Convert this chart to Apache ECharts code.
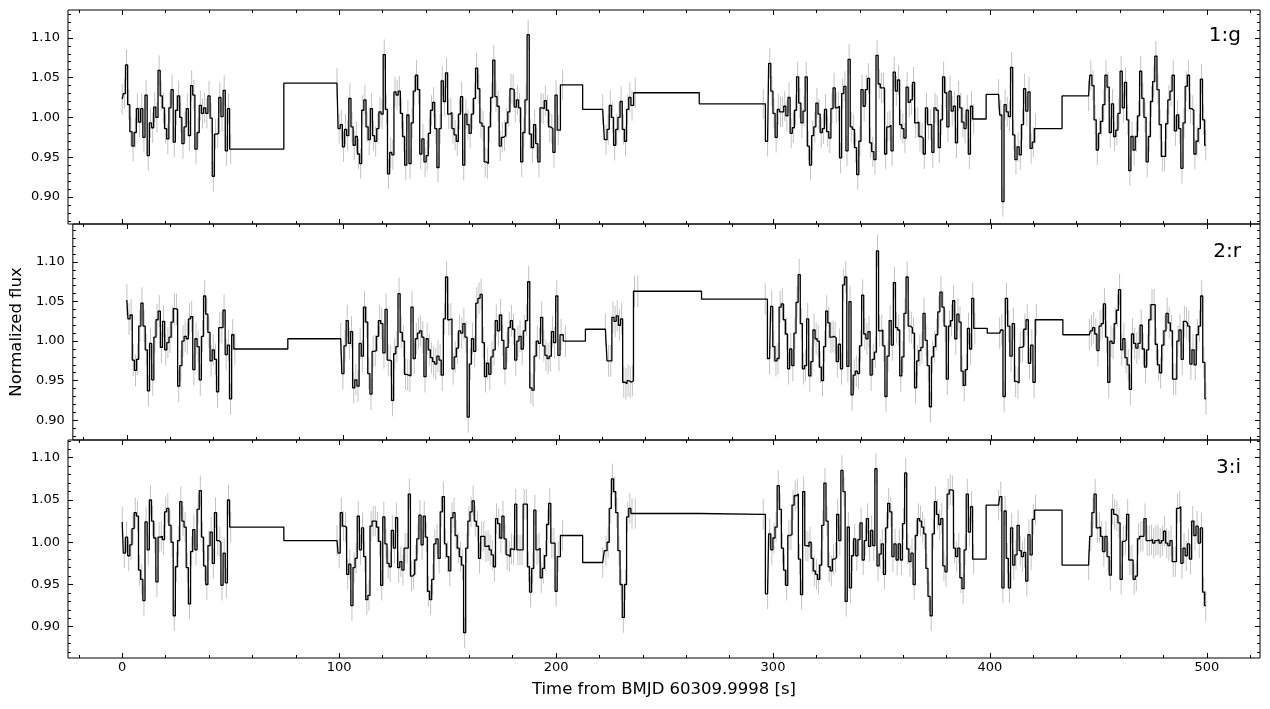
<!DOCTYPE html>
<html>
<head>
<meta charset="utf-8">
<script src="https://cdn.jsdelivr.net/npm/echarts@6/dist/echarts.min.js"></script>
<style>
  html, body { margin: 0; padding: 0; background: #fff; }
  #chart { width: 1270px; height: 709px; }
</style>
</head>
<body>
<div id="chart"></div>
<script>
// time spans [start, end] (s) of each run of exposures, shared by the three bands
const segTimes = [[0, 50], [99, 99], [100, 201], [203, 203], [221.5, 221.5], [223, 235], [236.5, 236.5],
  [295.5, 295.5], [297.5, 392.5], [404, 404], [405, 421], [445.5, 445.5], [446.5, 499.5]];

// band 1:g
const gVals = [
  [1.023, 1.030, 1.066, 1.016, 0.982, 0.964, 0.981, 1.011, 0.994, 1.011, 0.975, 1.028, 0.952, 0.993, 0.987, 1.013, 1.000,
   1.059, 1.027, 1.012, 0.986, 0.973, 1.012, 1.035, 0.969, 1.009, 1.027, 1.000, 0.967, 0.988, 1.011, 0.977, 1.040, 1.028,
   0.960, 0.981, 1.015, 1.005, 1.012, 1.005, 1.027, 0.999, 0.926, 0.979, 0.980, 1.025, 1.001, 1.034, 0.958, 1.011, 0.960],
  [1.043],
  [0.986, 0.991, 0.963, 0.985, 0.977, 1.024, 0.988, 0.965, 0.976, 0.954, 0.942, 1.009, 1.022, 0.988, 0.972, 1.011, 0.977,
   0.970, 0.986, 1.007, 1.004, 1.079, 1.010, 0.929, 0.956, 0.953, 1.032, 1.028, 1.033, 1.005, 0.976, 0.940, 1.003, 0.942,
   0.993, 1.033, 1.053, 1.035, 0.954, 0.973, 0.944, 0.952, 0.980, 1.009, 1.019, 0.986, 0.937, 0.986, 1.046, 1.020, 1.056,
   1.004, 1.006, 0.986, 0.978, 0.970, 1.004, 1.026, 0.940, 1.004, 0.991, 0.980, 1.004, 1.024, 1.062, 1.036, 0.993, 0.989,
   0.944, 0.942, 0.988, 1.025, 1.072, 1.026, 1.014, 0.964, 0.975, 0.977, 0.993, 1.007, 1.036, 1.035, 1.013, 1.022, 1.012,
   0.944, 0.981, 1.022, 1.104, 0.979, 0.962, 0.991, 0.967, 0.944, 1.012, 1.011, 1.021, 1.009, 0.988, 0.986, 0.956, 1.028, 0.984],
  [1.041],
  [1.010],
  [0.972, 0.985, 1.015, 1.000, 0.965, 0.985, 1.000, 1.020, 0.985, 0.970, 1.010, 1.025, 1.015],
  [1.031],
  [1.017],
  [0.970, 1.068, 1.033, 1.005, 0.975, 1.010, 1.007, 1.007, 1.014, 1.002, 1.025, 0.980, 0.987, 1.009, 1.051, 1.018, 0.993,
   1.008, 1.051, 0.964, 0.940, 0.977, 0.988, 1.018, 1.004, 0.981, 0.986, 1.010, 0.982, 0.974, 1.011, 1.037, 1.012, 1.014,
   0.949, 1.030, 1.039, 0.958, 1.073, 0.988, 0.985, 0.962, 0.928, 0.970, 1.035, 1.014, 1.035, 1.049, 0.968, 0.957, 0.947,
   1.078, 1.042, 1.037, 1.037, 0.954, 0.988, 0.990, 0.958, 1.057, 1.033, 1.047, 0.991, 0.986, 0.974, 1.038, 1.019, 1.022,
   1.044, 0.993, 0.994, 0.976, 0.974, 0.954, 1.012, 0.991, 0.991, 0.956, 1.012, 1.009, 0.962, 0.997, 1.051, 1.031, 0.988,
   1.033, 1.008, 1.014, 0.968, 1.027, 1.012, 0.994, 0.986, 1.009, 0.954, 1.014, 0.998],
  [1.029],
  [1.003, 0.894, 1.016, 1.007, 1.001, 1.063, 0.978, 0.947, 0.963, 0.953, 0.991, 1.036, 1.008, 1.032, 0.961, 0.969, 0.986],
  [1.027],
  [1.053, 1.040, 0.997, 0.959, 0.980, 0.995, 1.016, 1.053, 1.038, 0.981, 1.017, 0.976, 0.984, 1.005, 1.058, 1.012, 1.044,
   0.997, 0.933, 0.976, 0.959, 0.976, 1.002, 1.058, 1.024, 1.000, 0.944, 0.976, 1.020, 1.045, 1.077, 1.035, 0.991, 0.951,
   0.951, 0.992, 1.022, 1.033, 1.053, 0.983, 1.003, 0.986, 0.936, 0.993, 1.039, 1.053, 1.011, 1.009, 0.954, 0.970, 0.986,
   1.048, 0.997, 0.965]
];

// band 2:r
const rVals = [
  [1.052, 1.028, 1.033, 0.976, 0.963, 0.977, 1.019, 1.048, 1.019, 0.989, 0.937, 0.997, 0.951, 1.005, 1.027, 1.038, 0.992,
   1.025, 0.989, 0.998, 1.005, 1.024, 1.041, 1.040, 0.943, 0.969, 1.000, 1.006, 1.003, 1.028, 1.031, 0.964, 1.003, 0.993,
   0.951, 1.006, 1.057, 1.034, 1.011, 0.975, 0.989, 0.977, 0.936, 1.017, 1.017, 1.039, 0.983, 0.995, 0.927, 1.008, 0.990],
  [1.003],
  [0.959, 0.994, 1.026, 0.997, 1.012, 0.941, 0.951, 0.943, 0.997, 0.981, 1.043, 1.024, 0.959, 0.933, 0.987, 0.988, 1.006,
   1.026, 1.022, 0.985, 1.040, 0.976, 0.975, 0.925, 0.984, 0.993, 1.060, 1.011, 1.000, 0.958, 0.957, 0.956, 1.043, 0.978,
   1.003, 1.010, 1.013, 1.005, 0.955, 1.003, 0.989, 0.979, 0.974, 0.971, 0.981, 0.976, 0.957, 1.028, 1.081, 1.027, 1.028,
   0.965, 0.980, 0.991, 1.013, 1.010, 1.022, 1.005, 0.904, 0.971, 1.003, 0.987, 1.048, 1.054, 1.059, 0.998, 0.955, 0.972,
   0.958, 0.980, 0.989, 1.026, 1.013, 1.033, 1.001, 0.965, 0.992, 1.017, 1.026, 1.015, 0.976, 1.000, 1.006, 0.990, 1.013,
   1.026, 1.075, 0.941, 0.938, 0.981, 1.000, 0.997, 1.030, 0.994, 0.982, 0.978, 0.981, 1.012, 0.998, 1.057, 0.982, 1.008],
  [1.000],
  [1.015],
  [0.975, 0.975, 1.030, 1.025, 1.032, 1.020, 1.028, 0.948, 0.946, 0.950, 0.948, 0.950, 1.063],
  [1.063],
  [1.053],
  [0.978, 1.044, 0.993, 0.975, 0.978, 1.043, 1.047, 1.027, 1.009, 0.965, 0.990, 0.969, 1.010, 1.049, 1.084, 1.022, 0.965,
   0.969, 1.028, 0.956, 0.974, 1.014, 1.003, 1.000, 0.967, 0.950, 0.993, 1.038, 1.023, 1.005, 1.006, 1.004, 0.974, 0.996,
   0.965, 1.071, 1.081, 0.968, 1.050, 0.932, 0.957, 0.962, 0.959, 0.994, 1.058, 1.009, 1.003, 1.012, 0.957, 0.977, 0.986,
   1.114, 1.013, 1.014, 0.994, 0.930, 0.981, 1.026, 0.995, 1.074, 1.017, 1.014, 0.956, 0.980, 1.035, 1.081, 1.019, 1.017,
   1.010, 0.941, 0.975, 0.988, 0.992, 1.035, 1.001, 0.969, 0.917, 0.980, 0.993, 1.008, 1.037, 1.062, 1.043, 1.019, 0.952,
   1.019, 1.026, 1.051, 1.003, 1.034, 1.024, 0.962, 0.944, 0.964, 1.016, 0.990, 1.054, 1.016],
  [1.010],
  [1.014, 0.930, 1.054, 1.019, 0.981, 1.022, 0.949, 0.947, 0.992, 0.993, 1.015, 1.027, 0.972, 0.995, 0.948, 1.027],
  [1.008],
  [1.013, 1.017, 1.009, 0.988, 1.019, 1.022, 1.047, 1.005, 0.948, 1.000, 0.997, 1.022, 1.039, 1.065, 0.989, 1.003, 0.979,
   0.970, 0.939, 1.009, 0.997, 0.991, 0.997, 1.020, 0.990, 0.967, 0.989, 1.027, 1.046, 1.046, 0.996, 0.970, 0.960, 0.995,
   1.013, 1.035, 1.023, 1.013, 0.952, 0.952, 1.000, 1.014, 0.977, 1.025, 1.023, 1.019, 0.971, 0.989, 0.970, 1.008, 1.019,
   1.057, 0.973, 0.927]
];

// band 3:i
const iVals = [
  [1.024, 0.987, 1.006, 0.984, 0.997, 1.016, 1.035, 1.031, 0.967, 0.956, 0.931, 1.024, 0.991, 1.050, 1.025, 1.005, 0.953,
   1.006, 1.007, 1.003, 1.036, 1.040, 1.020, 1.000, 0.913, 0.971, 1.002, 1.048, 1.025, 1.018, 0.970, 0.927, 0.989, 1.015,
   0.991, 1.039, 1.061, 1.006, 0.972, 0.950, 0.996, 1.012, 0.975, 1.035, 1.002, 1.000, 0.949, 0.987, 0.952, 1.050, 1.018],
  [1.002],
  [0.987, 1.035, 1.019, 1.018, 0.962, 0.974, 0.925, 0.970, 0.981, 1.031, 0.991, 1.017, 0.983, 0.932, 0.937, 1.019, 1.025,
   1.025, 1.018, 1.001, 0.949, 1.030, 0.998, 0.975, 0.971, 1.014, 0.993, 1.029, 0.970, 0.977, 0.967, 0.993, 0.993, 1.057,
   0.960, 0.962, 0.979, 1.004, 1.032, 0.997, 1.031, 1.006, 0.942, 0.932, 0.956, 0.998, 1.004, 0.981, 1.036, 1.054, 0.998,
   0.983, 0.966, 1.029, 1.035, 1.008, 0.993, 0.983, 0.973, 0.893, 0.993, 1.025, 1.036, 1.049, 1.025, 1.019, 0.981, 1.007,
   1.007, 0.995, 0.996, 0.991, 0.985, 0.971, 1.028, 1.022, 1.005, 1.031, 1.004, 0.985, 0.983, 0.992, 0.991, 1.045, 0.991,
   0.991, 0.991, 1.045, 1.045, 0.971, 0.941, 0.969, 1.038, 0.991, 0.993, 0.958, 0.969, 0.984, 1.021, 1.046, 0.999, 0.999,
   0.942, 0.983],
  [1.008],
  [0.976],
  [0.990, 1.000, 1.040, 1.075, 1.060, 1.035, 0.990, 0.950, 0.911, 0.950, 1.030, 1.040, 1.034],
  [1.034],
  [1.033],
  [0.939, 1.010, 0.991, 1.005, 1.018, 1.067, 1.039, 0.993, 0.967, 0.949, 1.008, 1.009, 1.044, 1.055, 1.057, 0.980, 0.938,
   1.060, 0.996, 0.995, 1.000, 0.981, 0.966, 0.962, 0.956, 0.973, 1.020, 1.070, 1.025, 0.971, 0.966, 0.980, 0.982, 1.033,
   1.002, 1.085, 1.060, 0.930, 1.018, 0.946, 0.984, 1.004, 0.984, 1.003, 1.023, 0.979, 1.002, 1.028, 0.995, 1.014, 0.996,
   1.087, 0.972, 0.986, 0.998, 0.962, 1.017, 1.046, 1.036, 0.983, 0.998, 0.979, 0.998, 0.979, 1.022, 1.082, 0.992, 0.977,
   0.987, 0.950, 1.008, 1.028, 1.025, 1.018, 1.010, 0.969, 0.936, 0.913, 1.010, 1.048, 1.033, 1.021, 1.028, 0.972, 0.965,
   1.057, 1.062, 1.061, 0.993, 0.983, 0.993, 0.958, 0.945, 0.991, 1.057, 1.012, 1.042, 0.980],
  [1.044],
  [1.054, 0.946, 1.037, 0.981, 0.946, 1.017, 0.973, 0.985, 1.020, 0.990, 0.983, 0.988, 0.954, 1.009, 0.985, 1.027, 1.038],
  [0.973],
  [1.007, 1.035, 1.057, 1.017, 1.018, 1.007, 0.989, 1.007, 0.983, 0.961, 1.039, 1.033, 1.031, 1.023, 0.956, 1.001, 1.003,
   1.033, 0.979, 0.979, 0.956, 0.960, 1.004, 1.007, 1.007, 1.028, 1.002, 1.002, 1.003, 0.999, 1.002, 1.003, 0.999, 1.002,
   1.013, 0.999, 0.996, 1.002, 0.977, 0.977, 1.040, 1.042, 0.975, 0.993, 0.984, 0.998, 0.980, 1.025, 1.008, 1.019, 0.999,
   1.017, 0.941, 0.925]
];

// typical 1-sigma error per band
const errG = 0.019;
const errR = 0.02;
const errI = 0.018;

const bandLabels = ['1:g', '2:r', '3:i'];
const xMajor = [0, 100, 200, 300, 400, 500];
const xMinor = [-20, 20, 40, 60, 80, 120, 140, 160, 180, 220, 240, 260, 280, 320, 340, 360, 380, 420, 440, 460, 480, 520];
const yMajor = [0.90, 0.95, 1.00, 1.05, 1.10];
const yMinor = [0.87, 0.88, 0.89, 0.91, 0.92, 0.93, 0.94, 0.96, 0.97, 0.98, 0.99, 1.01, 1.02, 1.03, 1.04, 1.06, 1.07, 1.08, 1.09, 1.11, 1.12, 1.13, 1.14];

const X_MIN = -25, X_MAX = 524.5;
const yRanges = [[0.866, 1.135], [0.875, 1.148], [0.863, 1.121]];
const grids = [
  { left: 68, width: 1192, top: 10, height: 214 },
  { left: 68, width: 1192, top: 224, height: 216 },
  { left: 68, width: 1192, top: 440, height: 218 }
];
const labelY = [36, 252, 468];

const FONT = 'DejaVu Sans';

function toPoints(vals, err) {
  const pts = [];
  vals.forEach((run, s) => {
    const [t0, t1] = segTimes[s];
    const n = run.length;
    run.forEach((v, k) => {
      const t = n > 1 ? t0 + (t1 - t0) * k / (n - 1) : t0;
      pts.push([t, v, err]);
    });
  });
  return pts;
}

const noLine = { show: false, onZero: false };

function makeXAxes(gi) {
  const base = { type: 'value', gridIndex: gi, min: X_MIN, max: X_MAX, axisLine: noLine, splitLine: { show: false } };
  const last = gi === 2;
  const tick = (vals, len) => ({ inside: true, length: len, customValues: vals, lineStyle: { color: '#000', width: 1 } });
  return [
    Object.assign({}, base, {
      position: 'bottom', axisTick: tick(xMajor, 5),
      axisLabel: { show: last, customValues: xMajor, color: '#000', fontFamily: FONT, fontSize: 13, margin: 3 },
      name: last ? 'Time from BMJD 60309.9998 [s]' : '', nameLocation: 'middle', nameGap: 23,
      nameTextStyle: { color: '#000', fontFamily: FONT, fontSize: 16.5 }
    }),
    Object.assign({}, base, { position: 'bottom', axisTick: tick(xMinor, 3), axisLabel: { show: false } }),
    Object.assign({}, base, { position: 'top', axisTick: tick(xMajor, 5), axisLabel: { show: false } }),
    Object.assign({}, base, { position: 'top', axisTick: tick(xMinor, 3), axisLabel: { show: false } })
  ];
}

function makeYAxes(gi) {
  const [lo, hi] = yRanges[gi];
  const base = { type: 'value', gridIndex: gi, min: lo, max: hi, axisLine: noLine, splitLine: { show: false } };
  const tick = (vals, len) => ({ inside: true, length: len, customValues: vals.filter(v => v > lo && v < hi), lineStyle: { color: '#000', width: 1 } });
  return [
    Object.assign({}, base, {
      position: 'left', axisTick: tick(yMajor, 5),
      axisLabel: { customValues: yMajor, color: '#000', fontFamily: FONT, fontSize: 13, margin: 8, formatter: v => v.toFixed(2) },
      name: gi === 1 ? 'Normalized flux' : '', nameLocation: 'middle', nameGap: 39,
      nameTextStyle: { color: '#000', fontFamily: FONT, fontSize: 16.5 }
    }),
    Object.assign({}, base, { position: 'left', axisTick: tick(yMinor, 3), axisLabel: { show: false } }),
    Object.assign({}, base, { position: 'right', axisTick: tick(yMajor, 5), axisLabel: { show: false } }),
    Object.assign({}, base, { position: 'right', axisTick: tick(yMinor, 3), axisLabel: { show: false } })
  ];
}

const bands = [[gVals, errG], [rVals, errR], [iVals, errI]];
const xAxis = [], yAxis = [], series = [];
bands.forEach(([vals, err], gi) => {
  xAxis.push(...makeXAxes(gi));
  yAxis.push(...makeYAxes(gi));
  const pts = toPoints(vals, err);
  series.push({
    type: 'custom', xAxisIndex: gi * 4, yAxisIndex: gi * 4, clip: true, silent: true, z: 1,
    encode: { x: 0, y: 1 },
    renderItem: (params, api) => {
      const t = api.value(0), v = api.value(1), e = api.value(2);
      const a = api.coord([t, v - e]), b = api.coord([t, v + e]);
      return { type: 'line', shape: { x1: a[0], y1: a[1], x2: b[0], y2: b[1] }, style: { stroke: '#c2c2c2', lineWidth: 1 } };
    },
    data: pts
  });
  series.push({
    type: 'line', xAxisIndex: gi * 4, yAxisIndex: gi * 4, step: 'middle', showSymbol: false, symbol: 'none',
    clip: true, silent: true, z: 3,
    lineStyle: { color: '#000', width: 1.3 },
    data: pts.map(p => [p[0], p[1]])
  });
});

const chart = echarts.init(document.getElementById('chart'));
chart.setOption({
  animation: false,
  backgroundColor: '#fff',
  grid: grids.map(g => Object.assign({ show: true, borderColor: '#000', borderWidth: 1, backgroundColor: 'transparent' }, g)),
  xAxis: xAxis,
  yAxis: yAxis,
  series: series,
  graphic: bandLabels.map((txt, gi) => ({
    type: 'text', x: 1241, y: labelY[gi], z: 10,
    style: { text: txt, fill: '#000', font: '20px "DejaVu Sans"', textAlign: 'right', textVerticalAlign: 'middle' }
  }))
});
</script>
</body>
</html>
